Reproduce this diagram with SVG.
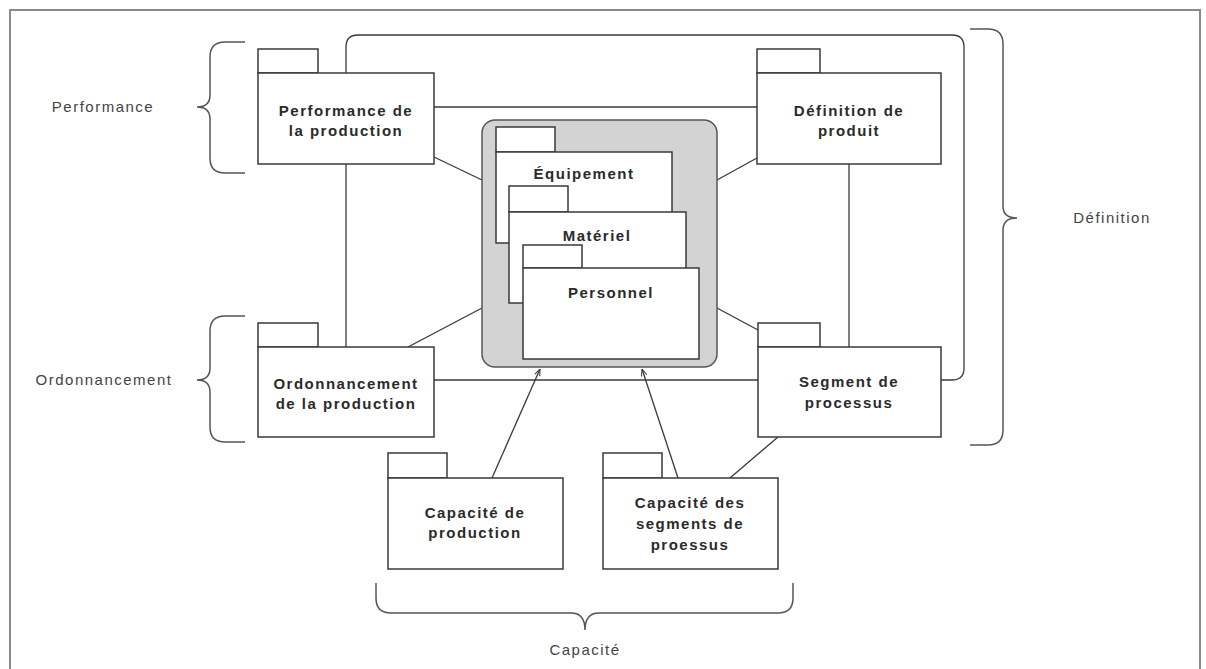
<svg xmlns="http://www.w3.org/2000/svg" width="1206" height="669" viewBox="0 0 1206 669">
<defs>
<style>
.frame{fill:none;stroke:#8a8a8a;stroke-width:2}
.box{fill:#fff;stroke:#3a3a3a;stroke-width:1.5}
.gray{fill:#d3d3d3;stroke:#555;stroke-width:1.5}
.ln{fill:none;stroke:#3a3a3a;stroke-width:1.3}
.br{fill:none;stroke:#555;stroke-width:1.5}
.t{font-family:"Liberation Sans",Arial,sans-serif;font-size:15px;font-weight:bold;fill:#2a2a2a;text-anchor:middle;letter-spacing:1.5px}
.lab{font-family:"Liberation Sans",Arial,sans-serif;font-size:15px;fill:#444;text-anchor:middle;letter-spacing:1.5px}
</style>
<marker id="arr" viewBox="0 0 10 10" refX="10" refY="5" markerWidth="7" markerHeight="7" orient="auto-start-reverse" markerUnits="userSpaceOnUse">
<path d="M0,1 L10,5 L0,9" fill="none" stroke="#3a3a3a" stroke-width="1.5"/>
</marker>
</defs>
<rect width="1206" height="669" fill="#fff"/>
<rect class="frame" x="10" y="10" width="1190" height="700"/>

<g id="connectors">
<path class="ln" d="M346,73 V47 Q346,35 358,35 H952 Q964,35 964,47 V368 Q964,380 952,380 H941"/>
<line class="ln" x1="434" y1="107" x2="757" y2="107"/>
<line class="ln" x1="346" y1="164" x2="346" y2="347"/>
<line class="ln" x1="849" y1="164" x2="849" y2="347"/>
<line class="ln" x1="434" y1="380" x2="758" y2="380"/>
<line class="ln" x1="434" y1="157" x2="482" y2="180"/>
<line class="ln" x1="757" y1="158" x2="717" y2="180"/>
<line class="ln" x1="408" y1="347" x2="482" y2="308"/>
<line class="ln" x1="717" y1="308" x2="758" y2="330"/>
<line class="ln" x1="492" y1="478" x2="540" y2="369" marker-end="url(#arr)"/>
<line class="ln" x1="678" y1="478" x2="642" y2="369" marker-end="url(#arr)"/>
<line class="ln" x1="778" y1="437" x2="730" y2="478"/>
</g>

<g id="brace-performance">
<path class="br" d="M245,42 H225 Q210,42 210,57 V95 Q210,107 197,107 Q210,107 210,119 V158 Q210,173 225,173 H245"/>
<text class="lab" x="103" y="112">Performance</text>
</g>
<g id="brace-ordonnancement">
<path class="br" d="M245,316 H225 Q210,316 210,331 V368 Q210,380 197,380 Q210,380 210,392 V427 Q210,442 225,442 H245"/>
<text class="lab" x="104" y="385">Ordonnancement</text>
</g>
<g id="brace-definition">
<path class="br" d="M970,29 H988 Q1003,29 1003,44 V206 Q1003,218 1017,218 Q1003,218 1003,230 V430 Q1003,445 988,445 H970"/>
<text class="lab" x="1112" y="223">Définition</text>
</g>
<g id="brace-capacite">
<path class="br" d="M376,583 V598 Q376,613 391,613 H571 Q585,613 585,630 Q585,613 599,613 H778 Q793,613 793,598 V583"/>
<text class="lab" x="585" y="655">Capacité</text>
</g>

<g id="performance-production">
<rect class="box" x="258" y="49" width="60" height="24"/>
<rect class="box" x="258" y="73" width="176" height="91"/>
<text class="t" x="346" y="116">Performance de</text>
<text class="t" x="346" y="136">la production</text>
</g>
<g id="definition-produit">
<rect class="box" x="757" y="49" width="63" height="24"/>
<rect class="box" x="757" y="73" width="184" height="91"/>
<text class="t" x="849" y="116">Définition de</text>
<text class="t" x="849" y="136">produit</text>
</g>
<g id="ordonnancement-production">
<rect class="box" x="258" y="323" width="60" height="24"/>
<rect class="box" x="258" y="347" width="176" height="90"/>
<text class="t" x="346" y="389">Ordonnancement</text>
<text class="t" x="346" y="409">de la production</text>
</g>
<g id="segment-processus">
<rect class="box" x="758" y="323" width="62" height="24"/>
<rect class="box" x="758" y="347" width="183" height="90"/>
<text class="t" x="849" y="387">Segment de</text>
<text class="t" x="849" y="408">processus</text>
</g>
<g id="capacite-production">
<rect class="box" x="388" y="453" width="59" height="25"/>
<rect class="box" x="388" y="478" width="175" height="91"/>
<text class="t" x="475" y="518">Capacité de</text>
<text class="t" x="475" y="538">production</text>
</g>
<g id="capacite-segments">
<rect class="box" x="603" y="453" width="59" height="25"/>
<rect class="box" x="603" y="478" width="175" height="91"/>
<text class="t" x="690" y="508">Capacité des</text>
<text class="t" x="690" y="529">segments de</text>
<text class="t" x="690" y="550">proessus</text>
</g>

<g id="ressources">
<rect class="gray" x="482" y="120" width="235" height="247" rx="13"/>
</g>
<g id="equipement">
<rect class="box" x="496" y="127" width="59" height="25"/>
<rect class="box" x="496" y="152" width="176" height="91"/>
<text class="t" x="584" y="179">Équipement</text>
</g>
<g id="materiel">
<rect class="box" x="509" y="186" width="59" height="26"/>
<rect class="box" x="509" y="212" width="177" height="91"/>
<text class="t" x="597" y="241">Matériel</text>
</g>
<g id="personnel">
<rect class="box" x="523" y="245" width="59" height="23"/>
<rect class="box" x="523" y="268" width="176" height="91"/>
<text class="t" x="611" y="298">Personnel</text>
</g>
</svg>
